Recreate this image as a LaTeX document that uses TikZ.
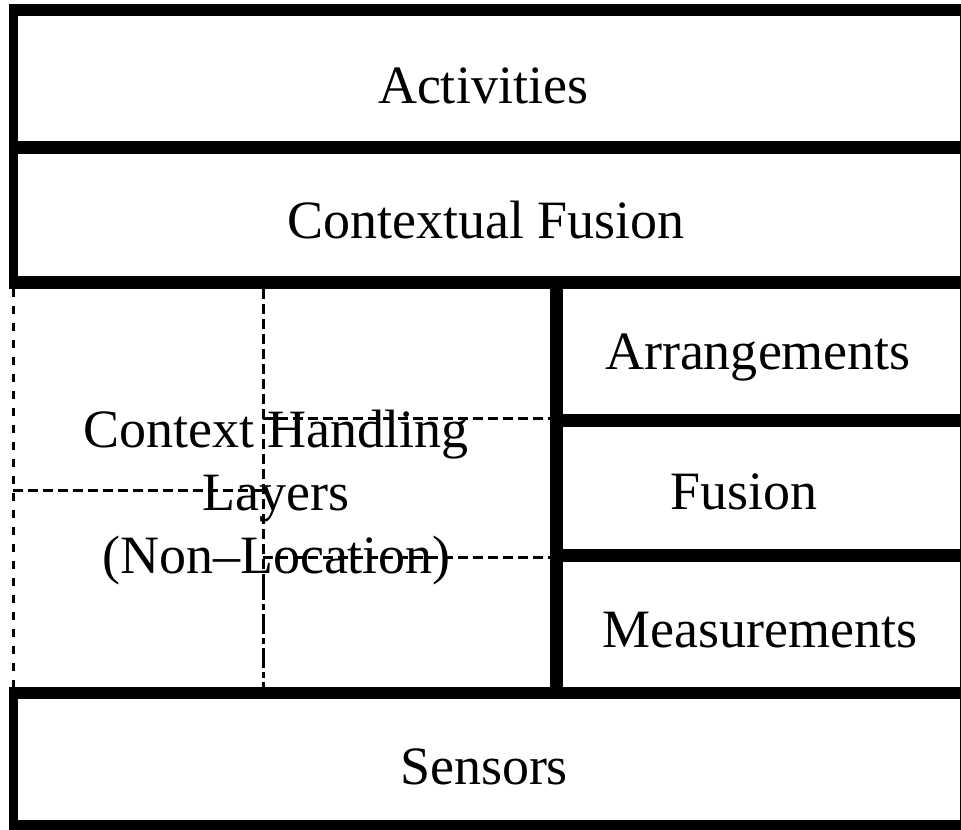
\documentclass[tikz,border=0pt]{standalone}
\usepackage{fontspec}
\setmainfont{Liberation Serif}
\begin{document}
\begin{tikzpicture}[x=0.5pt,y=-0.5pt,
  thickline/.style={line width=6.3pt},
  leftline/.style={line width=4.5pt},
  thindash/.style={line width=1.5pt, dash pattern=on 4pt off 4.5pt},
  middash/.style={line width=1.5pt, dash pattern=on 5pt off 2.5pt},
  dashdotline/.style={line width=1.5pt, dash pattern=on 10pt off 2pt on 3pt off 2pt},
  lbl/.style={font=\fontsize{27}{31.5}\selectfont, inner sep=0pt, align=center}]
\useasboundingbox (0,0) rectangle (961,829);
\clip (0,0) rectangle (961,829);
\fill[white] (0,0) rectangle (961,829);
% text
\node[lbl] (act) at (483,86) {Activities};
\node[lbl] (cf) at (486,220) {Contextual Fusion};
\node[lbl] (arr) at (758,357) {Arrangements};
\node[lbl] (fus) at (744,492) {Fusion};
\node[lbl] (mea) at (760,630) {Measurements};
\node[lbl] (sen) at (484,767) {Sensors};
\node[lbl] (chl) at (276,498) {Context Handling\\Layers\\(Non--Location)};
% outer frame
\draw[thickline] (9,10) -- (975,10);
\draw[thickline] (9,826) -- (975,826);
\draw[thickline] (966,4) -- (966,829);
\draw[leftline] (13.5,4) -- (13.5,289);
\draw[leftline] (13.5,687) -- (13.5,829);
% horizontal separators
\draw[thickline] (9,147.5) -- (975,147.5);
\draw[thickline] (9,282.5) -- (975,282.5);
\draw[thickline] (550,420.5) -- (975,420.5);
\draw[thickline] (550,555.5) -- (975,555.5);
\draw[thickline] (9,693) -- (975,693);
% vertical separator
\draw[thickline] (556.5,282) -- (556.5,693);
% dashed lines in the left block
\draw[thindash] (13,289) -- (13,687);
\draw[middash] (263,289) -- (263,580);
\draw[dashdotline] (263,580) -- (263,687);
\draw[middash] (13,490) -- (263,490);
\draw[middash] (263,418) -- (550,418);
\draw[middash] (263,557) -- (550,557);
\end{tikzpicture}
\end{document}
